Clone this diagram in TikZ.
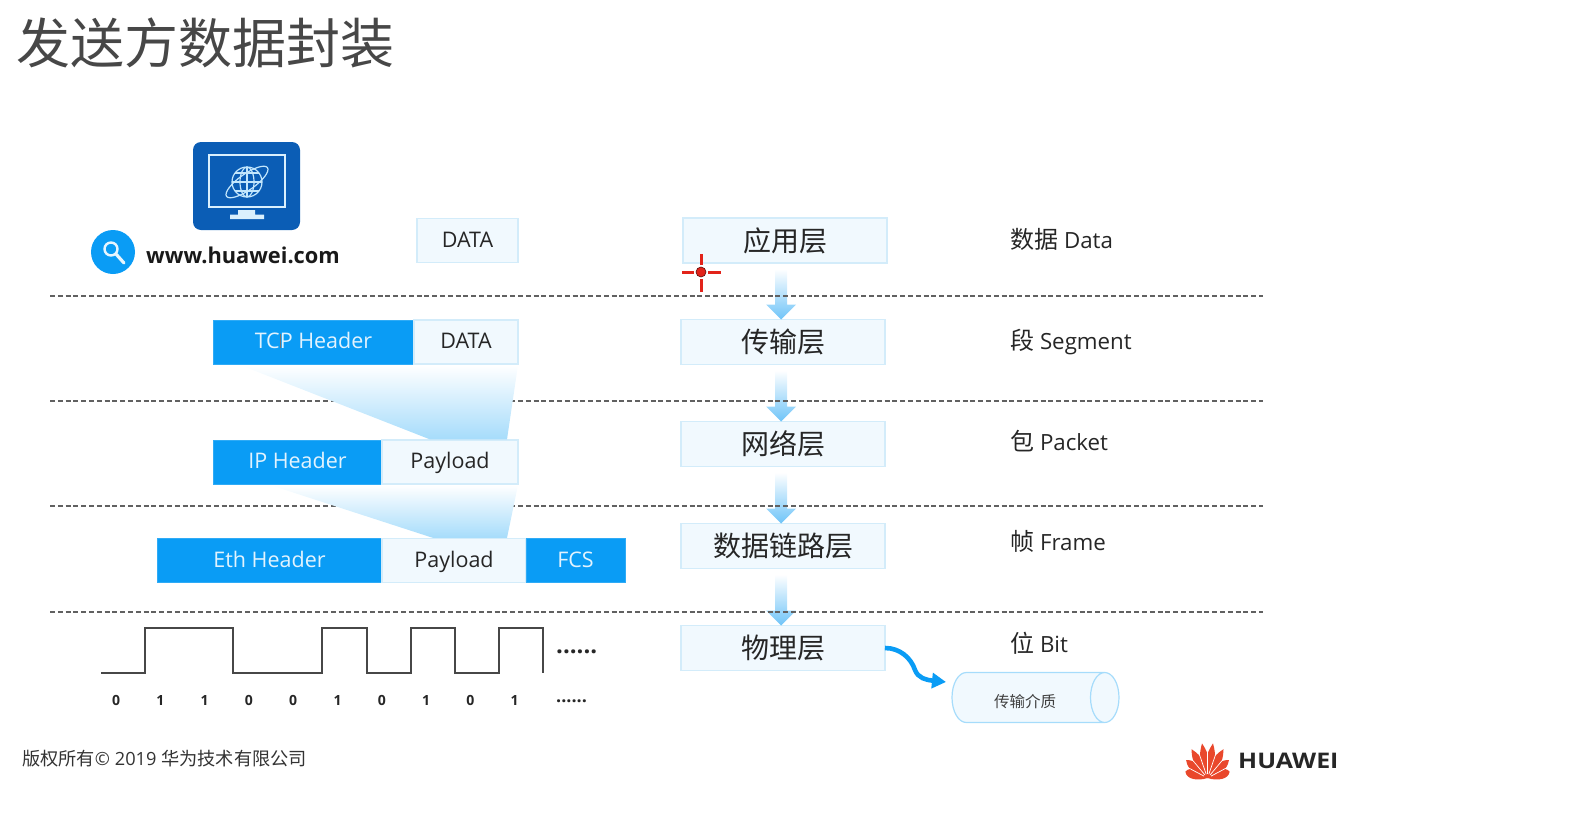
\documentclass[tikz,border=0pt]{standalone}
\usepackage{xcolor}
\usepackage{fontspec}
\setmainfont{Open Sans}
\newfontfamily\cjk{Noto Sans CJK SC}
\newfontfamily\brandfont[FakeStretch=1.16]{Open Sans}
\usepackage{tikz}
\usetikzlibrary{positioning, arrows.meta, shapes.geometric, calc}

\definecolor{hwblue}{HTML}{0A9CF5}
\definecolor{hwdark}{HTML}{0B5DB5}
\definecolor{hwpale}{HTML}{F1F9FE}
\definecolor{hwedge}{HTML}{D3ECFA}
\definecolor{hwfade}{HTML}{A6DCFB}
\definecolor{hwhead}{HTML}{6FC4F8}
\definecolor{hwink}{HTML}{262626}
\definecolor{hwred}{HTML}{E2231A}
\definecolor{hwpetal}{HTML}{E9482C}

\begin{document}
\begin{tikzpicture}[
    x=1pt, y=-1pt,
    hdr/.style={rectangle, fill=hwblue, draw=hwblue!85, line width=0.8pt, outer sep=0pt, inner sep=0pt, minimum height=44pt, text height=17.6pt, text depth=4pt, text=white!88!hwblue, font=\fontsize{21.5}{22}\selectfont},
    seg/.style={rectangle, fill=hwpale, draw=hwedge, line width=1.2pt, outer sep=0pt, inner sep=0pt, minimum height=44pt, text height=17.6pt, text depth=4pt, text=hwink, font=\fontsize{21.5}{22}\selectfont},
    layer/.style={rectangle, fill=hwpale, draw=hwedge, line width=1.4pt, outer sep=0pt, inner sep=0pt, minimum width=204pt, minimum height=45pt, text=hwink, font=\cjk\fontsize{28}{28}\selectfont},
    unit/.style={anchor=west, inner sep=0pt, text=hwink, font=\fontsize{22.3}{23}\selectfont},
    bit/.style={inner sep=0pt, text=hwink, font=\bfseries\fontsize{14}{14}\selectfont},
    rule/.style={dash pattern=on 5pt off 2.8pt, line width=1.15pt, draw=black!62},
    wave/.style={line width=1.4pt, draw=black!72},
    medium/.style={cylinder, anchor=west, shape aspect=1.5, draw=hwfade, line width=1.2pt, cylinder uses custom fill, cylinder body fill=hwpale, cylinder end fill=hwpale, minimum height=167pt, minimum width=50pt, inner sep=0pt, outer sep=0pt, text height=19pt, text depth=0pt, text=black!75, font=\cjk\fontsize{15.5}{16}\selectfont},
    flow/.style={top color=white, bottom color=hwfade},
    drop/.style={top color=white, bottom color=hwhead},
    note/.style={inner sep=0pt, text=black!72}
]
\useasboundingbox (0,0) rectangle (1580,814);

% Title
\node[note, anchor=west, font=\cjk\fontsize{54}{54}\selectfont] (title) at (16.5,43) {发送方数据封装};

% Host
\fill[hwdark, rounded corners=8pt] (193,142) rectangle (300,230);
\draw[white!85!hwblue, line width=2.6pt] (209,155) rectangle (285,207);
\fill[white!85!hwblue] (238,210) rectangle (255,215) (230,214.5) rectangle (264,219);
\begin{scope}[draw=white!75!hwblue, line width=1.2pt]
    \draw (247,182) circle[radius=15];
    \draw (247,182) ellipse[x radius=7, y radius=15];
    \draw (232,182) -- (262,182) (235,173) -- (259,173) (235,191) -- (259,191) (247,167) -- (247,197);
    \draw[rotate around={35:(247,182)}] (247,182) ellipse[x radius=25, y radius=8];
\end{scope}

% Search
\fill[hwblue] (113,252) circle[radius=22];
\draw[white!90!hwblue, line width=2.4pt] (111,249) circle[radius=6.5];
\draw[white!90!hwblue, line width=3.2pt, line cap=round] (116,254) -- (124,263);
\node[anchor=west, inner sep=0pt, text=black!90, font=\bfseries\fontsize{21.8}{22}\selectfont] (url) at (146,255) {www.huawei.com};

% Segments
\node[seg, minimum width=101pt] (dataA) at (467.5,240.5) {DATA};

\node[hdr, minimum width=201pt] (tcp) at (313.5,342) {TCP Header};
\node[seg, minimum width=104pt, right=0pt of tcp] (dataB) {DATA};

\node[hdr, minimum width=169pt] (ip) at (297.5,462) {IP Header};
\node[seg, minimum width=136pt, right=0pt of ip] (payA) {Payload};

\node[hdr, minimum width=225pt] (eth) at (269.5,560.5) {Eth Header};
\node[seg, minimum width=144pt, right=0pt of eth] (payB) {Payload};
\node[hdr, minimum width=99pt, right=0pt of payB] (fcs) {FCS};

% Layers
\node[layer] (app) at (785,240.5) {应用层};
\node[layer] (trans) at (783,342) {传输层};
\node[layer, below=57pt of trans] (net) {网络层};
\node[layer, below=57pt of net] (link) {数据链路层};
\node[layer, below=57pt of link] (phy) {物理层};

% Units
\node[unit] (uapp) at (1010,239) {{\cjk\fontsize{24}{24}\selectfont 数据} Data};
\node[unit] (utrans) at (1010,342) {{\cjk\fontsize{24}{24}\selectfont 段} Segment};
\node[unit] (unet) at (1010,441) {{\cjk\fontsize{24}{24}\selectfont 包} Packet};
\node[unit] (ulink) at (1010,541) {{\cjk\fontsize{24}{24}\selectfont 帧} Frame};
\node[unit] (uphy) at (1010,643) {{\cjk\fontsize{24}{24}\selectfont 位} Bit};

% Arrows
\foreach \a/\b in {app/trans, trans/net, net/link, link/phy}
    \shade[drop] ($(\a.south -| 781,0)+(-6,6)$) -- ($(\a.south -| 781,0)+(6,6)$)
        -- ($(\b.north -| 781,0)+(6,-15)$) -- ($(\b.north -| 781,0)+(15,-15)$)
        -- (\b.north -| 781,0) -- ($(\b.north -| 781,0)+(-15,-15)$)
        -- ($(\b.north -| 781,0)+(-6,-15)$) -- cycle;

% Dashed rules
\foreach \y in {296,401,506,612}
    \draw[rule] (50,\y) -- (1263,\y);

% Funnels
\shade[flow] (240,365) -- (518,365) -- (507,439.4) -- (430,439.4) -- cycle;
\shade[flow] (270,485) -- (518,485) -- (507,537.9) -- (433,537.9) -- cycle;

% Signal
\draw[wave] (101,673) -- (145,673) -- (145,628) -- (233,628) -- (233,673) -- (322,673) -- (322,628)
    -- (367,628) -- (367,673) -- (411,673) -- (411,628) -- (455,628) -- (455,673) -- (499,673)
    -- (499,628) -- (543,628) -- (543,673);
\foreach \d [count=\i] in {0,1,1,0,0,1,0,1,0,1}
    \node[bit] (bit\i) at ({116+44.3*(\i-1)},700) {\d};
\node[bit, anchor=west, font=\bfseries\fontsize{24}{24}\selectfont] (moreA) at (556,652) {......};
\node[bit, anchor=west, font=\bfseries\fontsize{18}{18}\selectfont] (moreB) at (556,701) {......};

% Medium
\node[medium] (pipe) at (952,697.5) {\kern-6pt 传输介质};
\coordinate (pipein) at (946,682);
\draw[-{Triangle[length=14pt,width=15pt]}, hwblue, line width=4.6pt] (phy.east |- 0,648)
    .. controls (900,648) and (911,658) .. (915,670) .. controls (918,678) and (926,680) .. (pipein);

% Cursor
\draw[hwred, line width=3pt] (701,254) -- (701,265) (701,279) -- (701,292) (682,272) -- (694,272) (708,272) -- (721,272);
\fill[hwred, draw=black!60!hwred, line width=0.6pt] (701,272) circle[radius=5];
\draw[black!55, line width=0.9pt] (280,334) -- (280,348);

% Footer
\node[note, anchor=west, text=black!80, font=\fontsize{18.2}{19}\selectfont] (copy) at (22,759) {{\cjk 版权所有}© 2019 {\cjk 华为技术有限公司}};

% Logo
\foreach \ang/\len in {-74/23, -50/28, -29/33, -9/35, 9/35, 29/33, 50/28, 74/23}
    \fill[hwpetal, shift={(1207.5,778)}, rotate=\ang] (0,0) .. controls (-6,-9) and (-7,-20) .. (0,-\len) .. controls (7,-20) and (6,-9) .. (0,0);
\foreach \ang in {-62,-40,-19,0,19,40,62}
    \draw[white, line width=0.7pt, shift={(1207.5,778)}, rotate=\ang] (0,-4) -- (0,-36);
\node[anchor=west, inner sep=0pt, text=hwink, font=\brandfont\bfseries\fontsize{21.5}{22}\selectfont] (brand) at (1238,761) {HUAWEI};

\end{tikzpicture}
\end{document}
